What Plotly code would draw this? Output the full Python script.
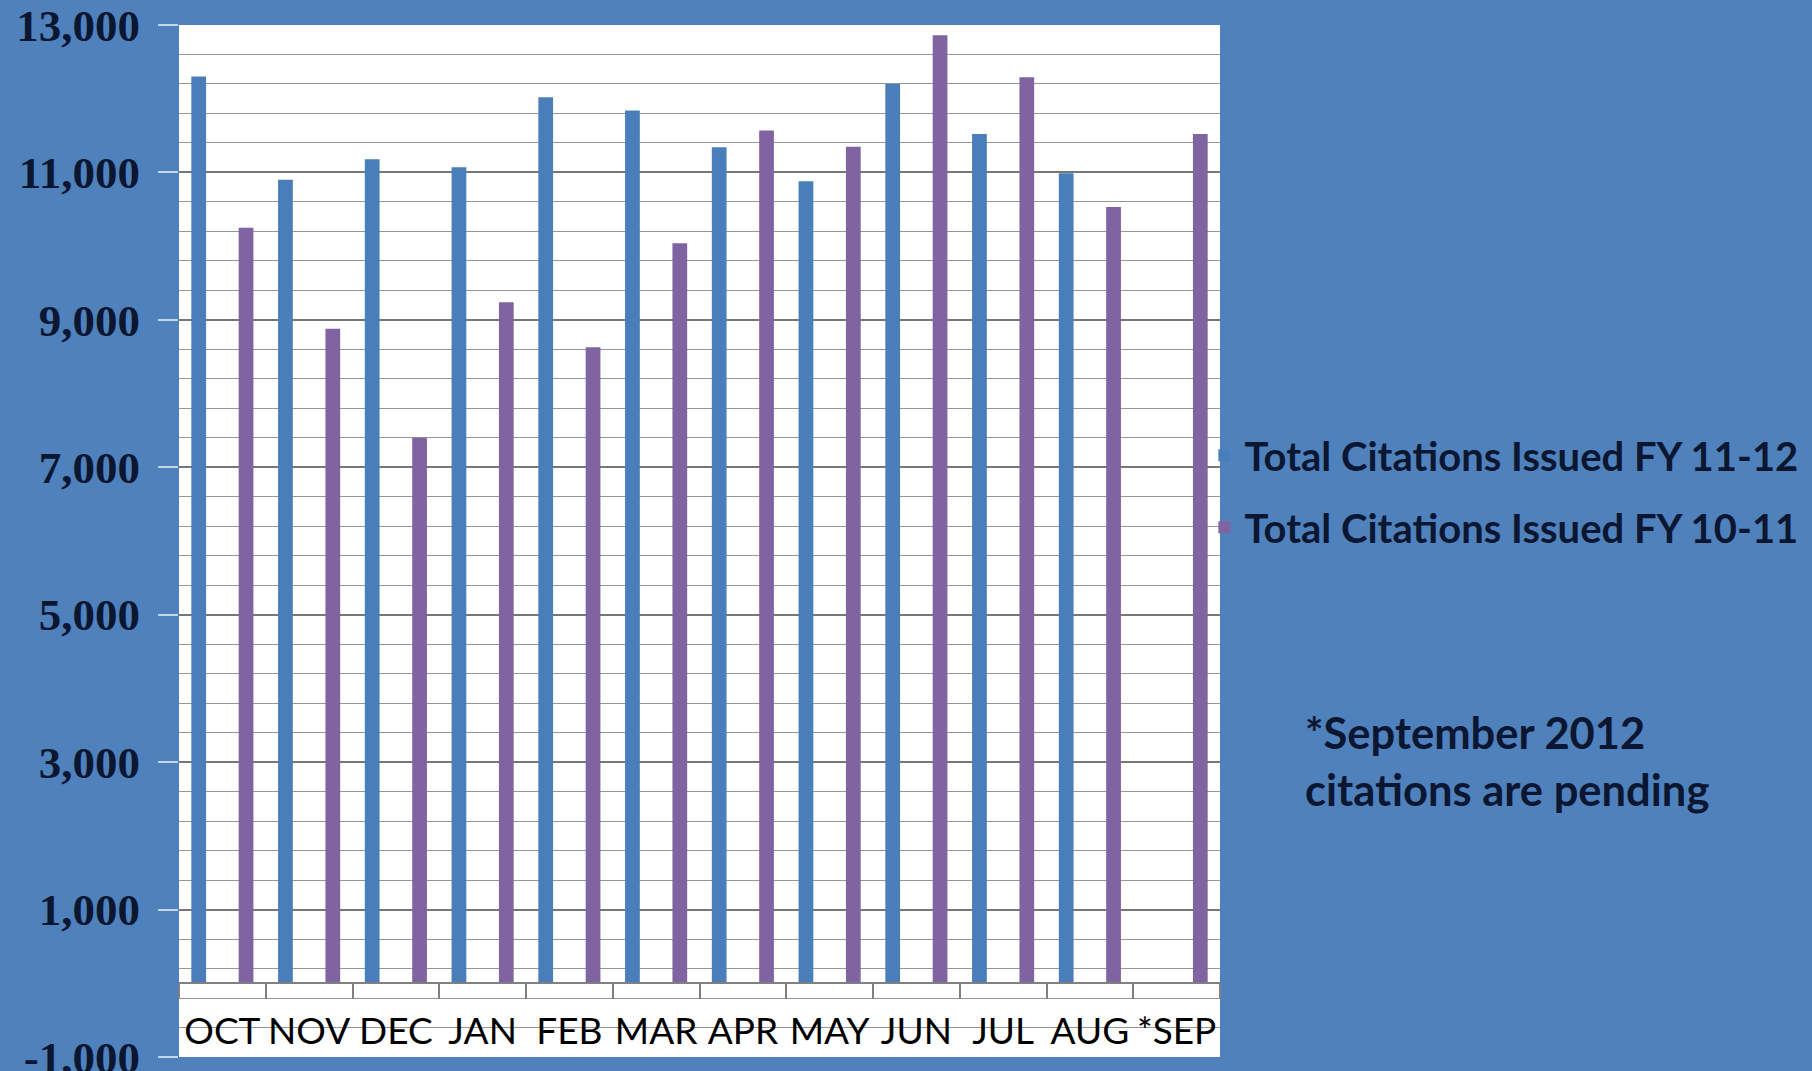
import plotly.graph_objects as go

months = ["OCT", "NOV", "DEC", "JAN", "FEB", "MAR", "APR", "MAY", "JUN", "JUL", "AUG", "*SEP"]
fy_11_12 = [12300, 10900, 11180, 11070, 12020, 11840, 11340, 10880, 12200, 11520, 10990]
fy_10_11 = [10250, 8880, 7400, 9240, 8630, 10040, 11570, 11350, 12860, 12290, 10530, 11520]
y_tickvals = [-1000, 1000, 3000, 5000, 7000, 9000, 11000, 13000]
y_ticktext = ["-1,000", "1,000", "3,000", "5,000", "7,000", "9,000", "11,000", "13,000"]
name_a = "Total Citations Issued FY 11-12"
name_b = "Total Citations Issued FY 10-11"
note = "*September 2012<br>citations are pending"

BG = "#4f81bd"
TXT = "#0b1631"

fig = go.Figure()
fig.add_trace(go.Bar(x=months[:len(fy_11_12)], y=fy_11_12, name=name_a, width=0.17, offset=-0.358,
                     marker=dict(color="#4a7ebb", line=dict(width=0)), legendgroup="a"))
fig.add_trace(go.Bar(x=months, y=fy_10_11, name=name_b, width=0.17, offset=0.188,
                     marker=dict(color="#8064a2", line=dict(width=0)), legendgroup="b"))

fig.update_layout(
    width=1812, height=1071,
    margin=dict(l=179, r=592, t=25, b=14, autoexpand=False),
    paper_bgcolor=BG, plot_bgcolor="white",
    barmode="overlay",
    showlegend=True,
    legend=dict(x=0.985, xanchor="left", y=0.6145, yanchor="top",
                bgcolor="rgba(0,0,0,0)", tracegroupgap=17,
                font=dict(family="Lato", size=40, color=TXT, weight="bold")),
    annotations=[dict(text=note, xref="paper", yref="paper", x=1.08, y=0.287,
                      xanchor="left", yanchor="middle", align="left", showarrow=False,
                      font=dict(family="Lato", size=43.5, color=TXT, weight="bold"))],
    xaxis=dict(type="category", categoryorder="array", categoryarray=months,
               range=[-0.5, len(months) - 0.5], anchor="free", position=1000 / 14000,
               showline=True, linecolor="#808080", linewidth=2,
               ticks="outside", tickson="boundaries", ticklen=15, tickcolor="#808080", tickwidth=1.5,
               tickangle=0, ticklabelstandoff=15, automargin=False,
               tickfont=dict(family="Lato", size=37, color="black"),
               showgrid=False, zeroline=False, fixedrange=True),
    yaxis=dict(range=[-1000, 13000], tickmode="array", tickvals=y_tickvals, ticktext=y_ticktext,
               showgrid=True, gridcolor="#777777", gridwidth=1.6,
               minor=dict(dtick=400, tick0=-1000, showgrid=True, gridcolor="#959595", gridwidth=1.4),
               ticks="outside", ticklen=20, tickcolor="#c9d6ea", tickwidth=1.5,
               ticklabelstandoff=9, automargin=False, ticklabeloverflow="allow",
               tickfont=dict(family="Liberation Serif", size=45, color=TXT, weight="bold"),
               zeroline=False, showline=False, fixedrange=True),
)

fig.write_html("out.html", config={"displayModeBar": False},
               post_script="document.body.style.margin='0';document.body.style.overflow='hidden';")
